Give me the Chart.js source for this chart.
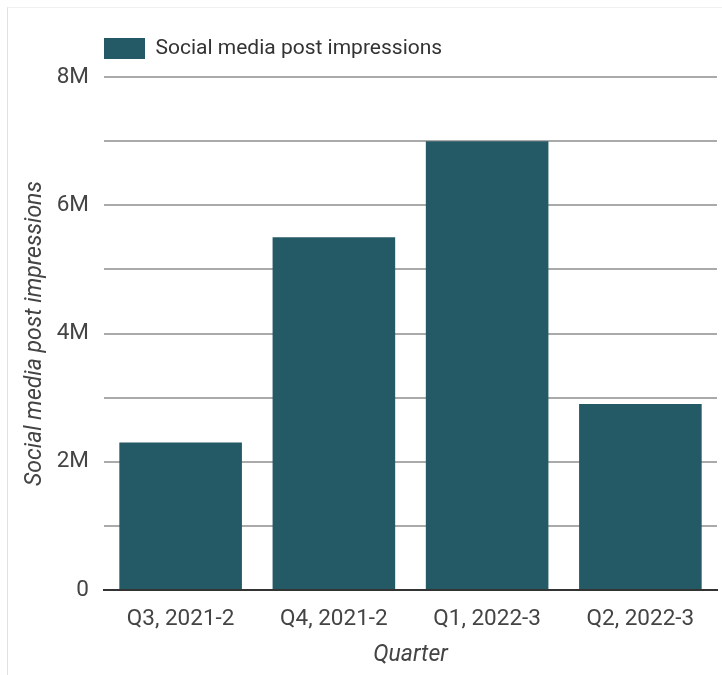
<!DOCTYPE html>
<html>
<head>
<meta charset="utf-8">
<script src="https://cdn.jsdelivr.net/npm/chart.js@4"></script>
<style>
  html, body { margin: 0; padding: 0; background: #fff; }
  #frame {
    position: absolute; left: 7px; top: 7px; width: 715px; height: 668px;
    border-left: 1px solid #e2e2e2; border-top: 1px solid #f0f0f0;
  }
  #wrap { position: absolute; left: 0; top: 0; width: 722px; height: 675px; }
</style>
</head>
<body>
<div id="frame"></div>
<div id="wrap"><canvas id="chart" width="722" height="675"></canvas></div>
<script>
// Data
const quarters = ["Q3, 2021-2", "Q4, 2021-2", "Q1, 2022-3", "Q2, 2022-3"]
const impressions = [2300000, 5500000, 7000000, 2900000]
const seriesName = "Social media post impressions"
const yTickLabels = { 0: "0", 2000000: "2M", 4000000: "4M", 6000000: "6M", 8000000: "8M" }

const barColor = "#245a65"
const textColor = "#444"

// pushes the plot area down a bit below the legend
const legendGap = {
  id: "legendGap",
  afterInit(chart) {
    const fit = chart.legend.fit
    chart.legend.fit = function() {
      fit.call(this)
      this.height += 8
    }
  }
}

new Chart(document.getElementById("chart"), {
  type: "bar",
  data: {
    labels: quarters,
    datasets: [{
      label: seriesName,
      data: impressions,
      backgroundColor: barColor,
      borderWidth: 0,
      barPercentage: 0.8,
      categoryPercentage: 1
    }]
  },
  options: {
    responsive: false,
    animation: false,
    layout: { padding: { top: 38, left: 0, right: 5, bottom: 0 } },
    plugins: {
      tooltip: { enabled: false },
      legend: {
        position: "top",
        align: "start",
        fullSize: false,
        labels: {
          boxWidth: 41,
          boxHeight: 21,
          padding: 0,
          color: "#333",
          font: { family: "Roboto", size: 21 }
        }
      }
    },
    scales: {
      x: {
        grid: { display: false },
        border: { color: "#333", width: 2 },
        ticks: { color: textColor, padding: 8, font: { family: "Roboto", size: 22.5 } },
        title: {
          display: true,
          text: "Quarter",
          color: textColor,
          padding: { top: 0, bottom: 6 },
          font: { family: "Roboto", size: 23, style: "italic" }
        },
        afterFit(s) { s.height = 85 }
      },
      y: {
        min: 0,
        max: 8000000,
        border: { display: false },
        grid: {
          color: ctx => ctx.tick.value === 0 ? "#333" : "#aaa",
          lineWidth: 2,
          drawTicks: false
        },
        ticks: {
          stepSize: 1000000,
          padding: 15,
          color: textColor,
          font: { family: "Roboto", size: 22.5 },
          callback: v => yTickLabels[v] !== undefined ? yTickLabels[v] : ""
        },
        title: {
          display: true,
          text: seriesName,
          color: textColor,
          padding: { top: 21, bottom: 0 },
          font: { family: "Roboto", size: 23, style: "italic" }
        },
        afterFit(s) { s.width = 104 }
      }
    }
  },
  plugins: [legendGap]
})
</script>
</body>
</html>
